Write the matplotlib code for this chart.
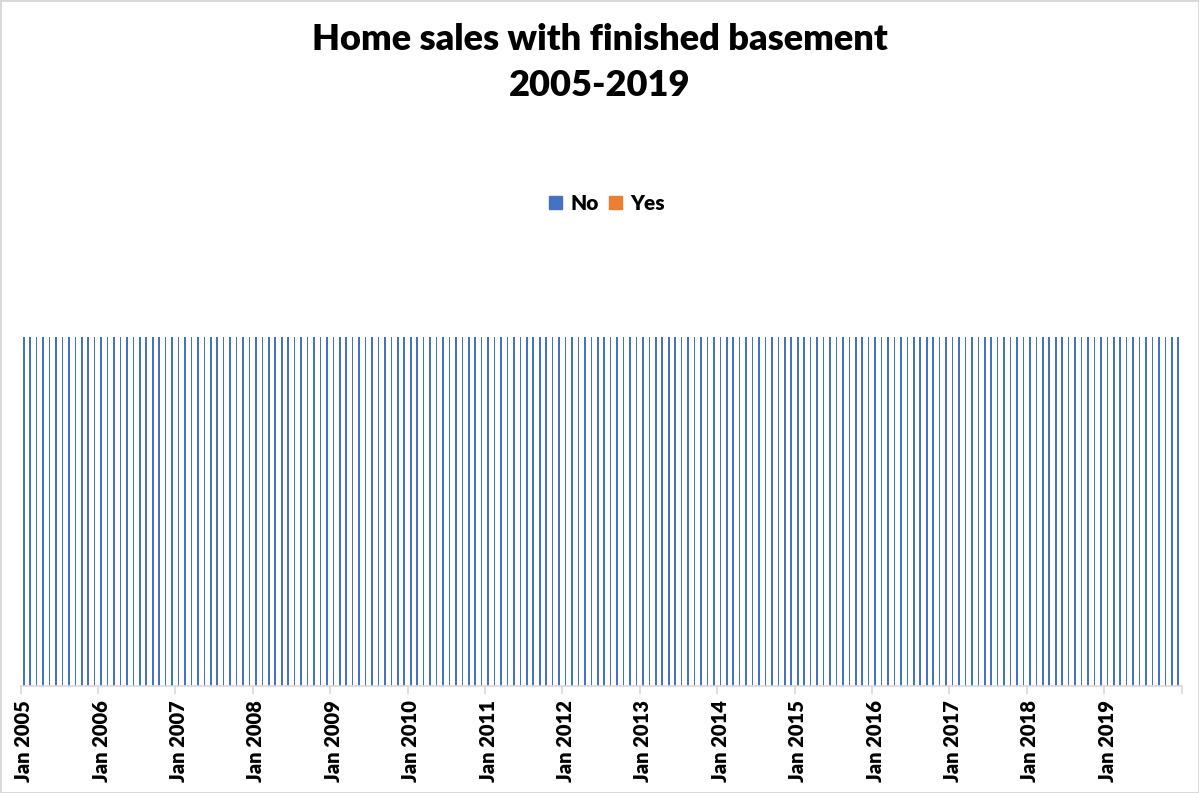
import numpy as np
import pandas as pd
import matplotlib.pyplot as plt
from matplotlib.patches import Patch

# monthly share of sales, Jan 2005 .. Dec 2019 (every month shows the same full-height "No" bar)
months = pd.date_range("2005-01-01", "2019-12-01", freq="MS")
no_share = [1.0] * len(months)
yes_share = [0.0] * len(months)
year_labels = [f"Jan {y}" for y in range(2005, 2020)]

blue = "#4472C4"
orange = "#ED7D31"
grid = "#D9D9D9"

fig = plt.figure(figsize=(11.99, 7.93), dpi=100)
fig.patch.set_facecolor("white")
fig.patch.set_edgecolor(grid)
fig.patch.set_linewidth(2)

W, H = 1199, 793
left, right = 20.5, 1181.5
bottom, top = 686, 240
ax = fig.add_axes([left / W, 1 - bottom / H, (right - left) / W, (bottom - top) / H])

x = np.arange(len(months)) + 0.5
ax.bar(x, no_share, width=0.25, color=blue, label="No")
ax.bar(x, yes_share, width=0.25, bottom=no_share, color=orange, label="Yes")

ax.set_xlim(0, len(months))
ax.set_ylim(0, (bottom - top) / (bottom - 337))

for s in ["top", "right", "left"]:
    ax.spines[s].set_visible(False)
ax.spines["bottom"].set_color(grid)
ax.spines["bottom"].set_linewidth(1.2)
ax.set_yticks([])

# year boundaries get the tick marks, labels sit on the January bar
ax.set_xticks(np.arange(0, len(months) + 1, 12))
ax.set_xticklabels([])
ax.tick_params(axis="x", which="major", length=6, color=grid, width=1.2)
ax.set_xticks(np.arange(0, len(months), 12) + 0.5, minor=True)
ax.set_xticklabels(year_labels, minor=True, rotation=90, fontsize=14.5,
                   fontweight="heavy", family="Lato")
ax.tick_params(axis="x", which="minor", length=0, pad=10)

fig.text(0.5, 1 - 40 / H, "Home sales with finished basement", ha="center", va="center",
         fontsize=26, fontweight="heavy", family="Lato")
fig.text(0.5, 1 - 86 / H, "2005-2019", ha="center", va="center",
         fontsize=26, fontweight="heavy", family="Lato")

handles = [Patch(color=blue, label="No"), Patch(color=orange, label="Yes")]
fig.legend(handles=handles, loc="center", bbox_to_anchor=(607 / W, 1 - 203 / H), ncol=2,
           frameon=False, prop={"family": "Lato", "weight": "heavy", "size": 15},
           handlelength=0.6, handleheight=0.6, handletextpad=0.4, columnspacing=0.5)

fig.savefig("out.png", dpi=100)
